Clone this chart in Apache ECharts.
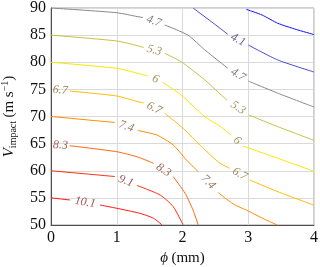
<!DOCTYPE html>
<html><head><meta charset="utf-8">
<script src="https://cdn.jsdelivr.net/npm/echarts@6/dist/echarts.min.js"></script>
<style>html,body{margin:0;padding:0;background:#fff}#c{width:320px;height:267px}</style>
</head><body><div id="c"></div>
<script>
// axis ranges / ticks
const xMin = 0, xMax = 4, xStep = 1;
const yMin = 50, yMax = 90, yStep = 5;
// contour levels (label text)
const levels = ['3.5', '4.1', '4.7', '5.3', '6', '6.7', '7.4', '8.3', '9.1', '10.1'];
// contour polylines [phi (mm), V (m/s)]; null marks the gap where the level label sits
const c35  = [[2.97,89.75],[3.21,88.71],[3.45,87.18],[3.73,86.04],[4.0,85.1]];
const c41  = [[2.16,90],[2.44,87.47],[2.69,85.15],null,[3.0,83.18],[3.45,80.41],[4.0,78.2]];
const c47  = [[0,90],[1.0,89.13],[1.32,88.4],[1.40,88.25],null,[1.73,86.87],[2.08,85.02],[2.34,82.26],[2.69,78.88],null,[3.0,76.54],[3.48,74.15],[4.0,71.75]];
const c53  = [[0,85],[1.0,83.92],[1.32,83.05],[1.41,82.72],null,[1.73,81.65],[1.98,80.1],[2.34,76.73],[2.68,72.95],null,[3.01,70.28],[3.45,68.12],[4.0,65.6]];
const c60  = [[0,80],[1.0,78.88],[1.32,77.96],[1.475,77.47],null,[1.70,76.3],[1.98,73.96],[2.34,69.96],[2.57,68.2],[2.74,66.59],null,[2.92,64.56],[3.45,62.3],[4.0,59.9]];
const c67  = [[0,75],null,[0.284,74.7],[1.0,73.78],[1.32,72.73],[1.41,72.49],null,[1.73,70.59],[2.01,67.82],[2.29,64.43],[2.57,61.37],[2.72,60.45],null,[3.02,58.3],[3.50,55.9],[4.0,53.65]];
const c74  = [[0,70],[0.97,68.9],null,[1.32,67.42],[1.61,66.59],[1.86,64.75],[2.06,61.98],[2.24,59.83],null,[2.54,56.0],[2.77,53.9],[3.03,52.4],[3.24,51.1],[3.44,50]];
const c83  = [[0,64.8],null,[0.284,64.62],[1.0,63.51],[1.32,62.53],[1.56,61.37],null,[1.86,58.9],[2.04,55.84],[2.16,52.77],[2.24,50]];
const c91  = [[0,60],[0.97,58.94],null,[1.31,57.28],[1.66,55.53],[1.86,53.37],[2.01,50]];
const c101 = [[0,55],[0.29,54.61],null,[0.745,53.69],[1.0,53.08],[1.35,52.16],[1.56,51.24],[1.69,50]];
const contours = [c35, c41, c47, c53, c60, c67, c74, c83, c91, c101];

// styles
const lineColors  = ['#1010ff','#4848d8','#888888','#c8c040','#f8e800','#ffbc00','#ff8c00','#ff6410','#ff3010','#ff1414'];
const labelColors = ['#20206a','#3c3c78','#5a5a5a','#857a30','#8a7c30','#8a6c28','#80583a','#8a3c2c','#7c2c2c','#8a2020'];
const serif = '"Liberation Serif", "DejaVu Serif", serif';

const chart = echarts.init(document.getElementById('c'), null, {renderer: 'canvas'});

const series = [];
contours.forEach((pts, ci) => {
  let seg = [];
  const flush = () => { if (seg.length > 1) series.push({
      type: 'line', data: seg, showSymbol: false, silent: true, animation: false, smooth: 0.2,
      lineStyle: {color: lineColors[ci], width: 1}, z: 3}); seg = []; };
  pts.forEach(p => { if (p === null) flush(); else seg.push(p); });
  flush();
});

const baseOption = {
  backgroundColor: '#fff',
  animation: false,
  grid: {left: 51, right: 6, top: 8, bottom: 42, show: true, borderColor: '#a0a0a0', borderWidth: 1,
    containLabel: false, outerBoundsMode: 'none'},
  xAxis: {
    type: 'value', min: xMin, max: xMax, interval: xStep,
    name: '{i|ϕ} {n|(mm)}', nameLocation: 'middle', nameGap: 24,
    nameTextStyle: {rich: {i: {fontFamily: serif, fontStyle: 'italic', fontSize: 15, color: '#111'}, n: {fontFamily: serif, fontSize: 15, color: '#111'}}},
    axisLine: {show: true, lineStyle: {color: '#505050', width: 1}},
    axisTick: {show: false},
    axisLabel: {fontFamily: serif, fontSize: 16, color: '#111', margin: 5},
    splitLine: {show: true, lineStyle: {color: '#dadada', width: 1}}
  },
  yAxis: {
    type: 'value', min: yMin, max: yMax, interval: yStep,
    name: '{v|V}{s|impact} {n|(m s}{p|−1}{n|)}', nameLocation: 'middle', nameRotate: 90, nameGap: 33,
    nameTextStyle: {rich: {
      v: {fontFamily: serif, fontStyle: 'italic', fontSize: 15, color: '#111', lineHeight: 18},
      s: {fontFamily: serif, fontSize: 10, color: '#111', lineHeight: 10, verticalAlign: 'bottom'},
      n: {fontFamily: serif, fontSize: 15, color: '#111', lineHeight: 18},
      p: {fontFamily: serif, fontSize: 10, color: '#111', lineHeight: 10, verticalAlign: 'top'}
    }},
    axisLine: {show: true, lineStyle: {color: '#505050', width: 1}},
    axisTick: {show: false},
    axisLabel: {fontFamily: serif, fontSize: 16, color: '#111', margin: 5},
    splitLine: {show: true, lineStyle: {color: '#dadada', width: 1}}
  },
  series: series
};
chart.setOption(baseOption);

// contour labels: centred in each gap, rotated along the line (angle via the chart's own scales)
const labelData = [];
contours.forEach((pts, ci) => {
  pts.forEach((p, i) => {
    if (p !== null) return;
    const a = pts[i - 1], b = pts[i + 1];
    const pa = chart.convertToPixel({xAxisIndex: 0, yAxisIndex: 0}, a);
    const pb = chart.convertToPixel({xAxisIndex: 0, yAxisIndex: 0}, b);
    const ang = -Math.atan2(pb[1] - pa[1], pb[0] - pa[0]) * 180 / Math.PI;
    labelData.push({
      value: [(a[0] + b[0]) / 2, (a[1] + b[1]) / 2],
      label: {show: true, position: 'inside', rotate: ang, formatter: levels[ci],
        color: labelColors[ci], fontFamily: serif, fontStyle: 'italic', fontSize: 12}
    });
  });
});
series.push({type: 'scatter', data: labelData, symbolSize: 0, silent: true, animation: false, z: 5});
chart.setOption({series: series});
</script></body></html>
